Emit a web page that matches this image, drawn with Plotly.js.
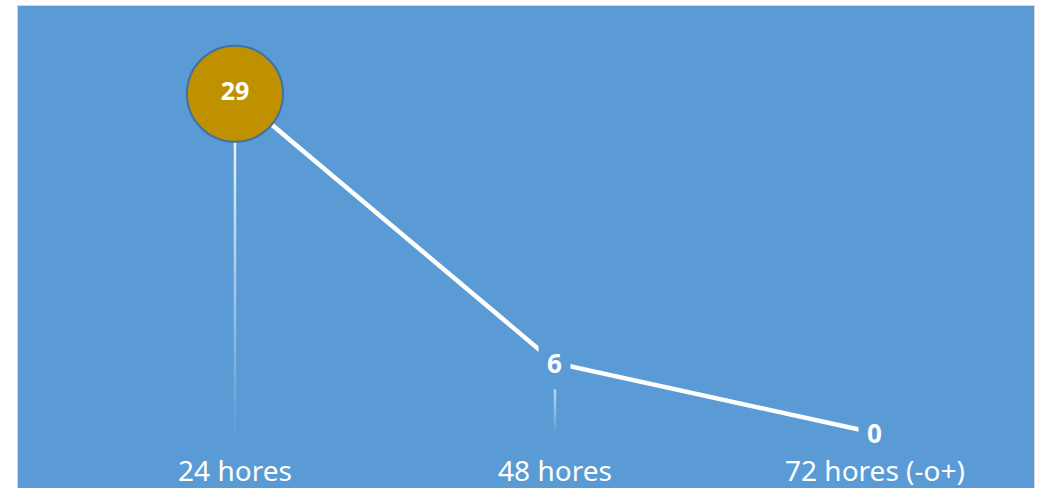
<!DOCTYPE html>
<html>
<head>
<meta charset="utf-8">
<script src="https://cdn.plot.ly/plotly-3.0.1.min.js"></script>
<style>
  html, body { margin: 0; padding: 0; background: #ffffff; overflow: hidden; }
  #chart { position: absolute; left: 17px; top: 5px; width: 1016px; height: 490px;
           border: 1px solid #d9d9d9; }
</style>
</head>
<body>
<div id="chart"></div>
<script>
const categories = ['24 hores', '48 hores', '72 hores (-o+)'];
const values = [29, 6, 0];

const BLUE = '#5B9BD5';
const GOLD = '#BF9000';
const FONT = 'Noto Sans, Open Sans, sans-serif';

const xIdx = categories.map((c, i) => i);
const maxIdx = values.indexOf(Math.max(...values));

// gradient drop lines (from each point down to the axis)
const shapes = [];
const N = 30;
values.forEach((v, i) => {
  if (v <= 0) return;
  for (let k = 0; k < N; k++) {
    const y1 = v - (v * k) / N;
    const y2 = v - (v * (k + 1)) / N;
    shapes.push({
      type: 'line', xref: 'x', yref: 'y', layer: 'below',
      x0: i, x1: i, y0: y1, y1: y2,
      line: { color: 'rgba(255,255,255,' + (1 - k / N).toFixed(3) + ')', width: 2.5 }
    });
  }
});

const annotations = values.map((v, i) => i === maxIdx ? null : ({
  x: i, y: v, xref: 'x', yref: 'y', text: '<b>' + v + '</b>', showarrow: false,
  font: { family: FONT, size: 26, color: '#ffffff' },
  bgcolor: BLUE, borderpad: 8, xanchor: 'center', yanchor: 'middle'
})).filter(a => a);

const traces = [
  {
    x: xIdx, y: values, type: 'scatter', mode: 'lines',
    line: { color: '#ffffff', width: 4.5 }, hoverinfo: 'skip', cliponaxis: false
  },
  {
    x: [maxIdx], y: [values[maxIdx]], type: 'scatter', mode: 'markers+text',
    marker: { size: 96, color: GOLD, line: { color: '#41719C', width: 2 } },
    text: ['<b>' + values[maxIdx] + '</b>'], textposition: 'middle center',
    textfont: { family: FONT, size: 25, color: '#ffffff' }, cliponaxis: false
  }
];

const layout = {
  width: 1016, height: 490,
  margin: { l: 0, r: 0, t: 0, b: 44 },
  paper_bgcolor: BLUE, plot_bgcolor: BLUE,
  showlegend: false,
  xaxis: {
    range: [-0.678, 2.497], tickvals: xIdx, ticktext: categories,
    showgrid: false, zeroline: false, showline: false, ticks: '',
    tickfont: { family: FONT, size: 28, color: '#ffffff' }, fixedrange: true
  },
  yaxis: {
    range: [-1.62, 36.5], visible: false, showgrid: false, zeroline: false, fixedrange: true
  },
  shapes: shapes,
  annotations: annotations
};

Plotly.newPlot('chart', traces, layout, { displayModeBar: false, staticPlot: true });
</script>
</body>
</html>
